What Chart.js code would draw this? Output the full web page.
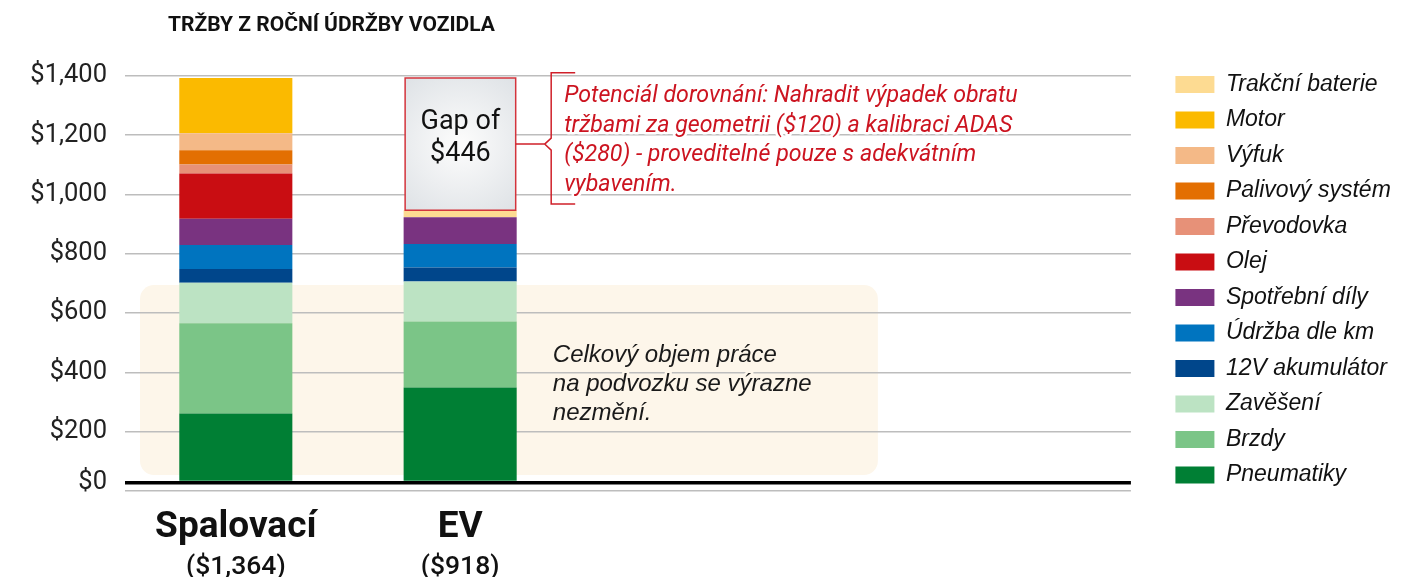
<!DOCTYPE html>
<html><head><meta charset="utf-8">
<script src="https://cdn.jsdelivr.net/npm/chart.js@4/dist/chart.umd.min.js"></script>
<style>html,body{margin:0;padding:0;background:#fff;}#wrap{width:1418px;height:577px;position:relative;}</style>
</head><body><div id="wrap"><canvas id="c" width="1418" height="577"></canvas></div>
<script>
// ---------- DATA ----------
const categories = ['Spalovací', 'EV'];
const seriesNames = ['Pneumatiky', 'Brzdy', 'Zavěšení', '12V akumulátor', 'Údržba dle km', 'Spotřební díly', 'Olej', 'Převodovka', 'Palivový systém', 'Výfuk', 'Motor', 'Trakční baterie'];
const pneumatiky     = [232, 320];
const brzdy          = [305, 223];
const zaveseni       = [136, 135];
const akumulator12V  = [47, 47];
const udrzbaKm       = [81, 79];
const spotrebniDily  = [88, 90];
const olej           = [153, 0];
const prevodovka     = [30, 0];
const palivovySystem = [48, 0];
const vyfuk          = [58, 0];
const motor          = [186, 0];
const trakcniBaterie = [0, 24];
const yTickValues = [0, 200, 400, 600, 800, 1000, 1200, 1400];
const yTickLabels = ['$0', '$200', '$400', '$600', '$800', '$1,000', '$1,200', '$1,400'];
const seriesColors = ['#007f34', '#7bc587', '#bce3c3', '#00468b', '#0074bf', '#793380', '#c90d12', '#e79178', '#e36f02', '#f4b987', '#fbba00', '#fddb92'];
const titleText = 'TRŽBY Z ROČNÍ ÚDRŽBY VOZIDLA';
const noteRed = ['Potenciál dorovnání: Nahradit výpadek obratu', 'tržbami za geometrii ($120) a kalibraci ADAS', '($280) - proveditelné pouze s adekvátním', 'vybavením.'];
const noteDark = ['Celkový objem práce', 'na podvozku se výrazne', 'nezmění.'];

const seriesData = [pneumatiky, brzdy, zaveseni, akumulator12V, udrzbaKm, spotrebniDily, olej, prevodovka, palivovySystem, vyfuk, motor, trakcniBaterie];
const totals = categories.map((_, i) => seriesData.reduce((s, arr) => s + arr[i], 0));

// ---------- LAYOUT CONSTANTS ----------
const GRID_SHIFT = 29;
const yTicksSpec = [{value: -GRID_SHIFT, label: ''}, {value: 0, label: yTickLabels[0]}]
  .concat(yTickValues.slice(1).map((v, i) => ({value: v - GRID_SHIFT, label: yTickLabels[i + 1]})));
const creamBox = {x0: -0.427, x1: 2.862, yTop: 666, yBottom: 25};

Chart.defaults.font.family = 'Roboto';

const fmt = n => '$' + n.toLocaleString('en-US');

const annot = {
  id: 'annot',
  beforeDraw(chart) {
    const {ctx, scales: {x, y}} = chart;
    const x0 = x.getPixelForValue(creamBox.x0), x1 = x.getPixelForValue(creamBox.x1);
    const y0 = y.getPixelForValue(creamBox.yTop), y1 = y.getPixelForValue(creamBox.yBottom);
    ctx.save();
    ctx.fillStyle = '#fdf6ea';
    ctx.beginPath();
    ctx.roundRect(x0, y0, x1 - x0, y1 - y0, 14);
    ctx.fill();
    ctx.restore();
  },
  afterDatasetsDraw(chart) {
    const {ctx, scales: {x, y}} = chart;
    const bar = chart.getDatasetMeta(0).data[1];
    const bl = bar.x - bar.width / 2 + 1.5, br = bar.x + bar.width / 2 - 1;
    const yTop = y.getPixelForValue(totals[0]), yBot = y.getPixelForValue(totals[1]);
    ctx.save();
    // gap box
    const cx = (bl + br) / 2, cy = (yTop + yBot) / 2;
    const g = ctx.createRadialGradient(cx, cy, 5, cx, cy, (br - bl) * 0.8);
    g.addColorStop(0, '#fbfbfb');
    g.addColorStop(1, '#dde1e5');
    ctx.fillStyle = g;
    ctx.fillRect(bl, yTop, br - bl, yBot - yTop);
    ctx.strokeStyle = '#d3343c';
    ctx.lineWidth = 1.5;
    ctx.strokeRect(bl, yTop, br - bl, yBot - yTop);
    ctx.fillStyle = '#111';
    ctx.font = '27px Roboto';
    ctx.textAlign = 'center';
    ctx.textBaseline = 'middle';
    ctx.fillText('Gap of', cx, yTop + 44);
    ctx.fillText(fmt(totals[0] - totals[1]), cx, yTop + 76);
    // connector + bracket
    const bx = br + 35.5;
    const bTop = y.getPixelForValue(1382), bBot = y.getPixelForValue(939);
    ctx.strokeStyle = '#d0202a';
    ctx.lineWidth = 1.5;
    ctx.beginPath();
    ctx.moveTo(br, cy); ctx.lineTo(bx - 6.5, cy);
    ctx.moveTo(bx + 24, bTop); ctx.lineTo(bx, bTop); ctx.lineTo(bx, cy - 6); ctx.lineTo(bx - 6.5, cy);
    ctx.lineTo(bx, cy + 6); ctx.lineTo(bx, bBot); ctx.lineTo(bx + 24, bBot);
    ctx.stroke();
    // red note
    ctx.font = 'italic 23.2px Roboto';
    ctx.textAlign = 'left';
    ctx.lineJoin = 'round';
    const ry0 = y.getPixelForValue(1301);
    noteRed.forEach((t, i) => {
      ctx.strokeStyle = '#fff'; ctx.lineWidth = 5;
      ctx.strokeText(t, bx + 13, ry0 + i * 29.5);
    });
    ctx.fillStyle = '#cc1420';
    noteRed.forEach((t, i) => ctx.fillText(t, bx + 13, ry0 + i * 29.5));
    // dark note
    ctx.font = 'italic 24px "Liberation Sans"';
    const dy0 = y.getPixelForValue(430);
    const dx = x.getPixelForValue(1.413);
    noteDark.forEach((t, i) => {
      ctx.strokeStyle = '#fdf6ea'; ctx.lineWidth = 5;
      ctx.strokeText(t, dx, dy0 + i * 29);
    });
    ctx.fillStyle = '#1a1a1a';
    noteDark.forEach((t, i) => ctx.fillText(t, dx, dy0 + i * 29));
    ctx.restore();
  },
  afterDraw(chart) {
    const {ctx, scales: {x}} = chart;
    ctx.save();
    ctx.fillStyle = '#111';
    ctx.font = 'bold 21px Roboto';
    ctx.textBaseline = 'middle';
    ctx.textAlign = 'left';
    ctx.fillText(titleText, 168, 26);
    ctx.font = '500 26.5px Roboto';
    ctx.textAlign = 'center';
    categories.forEach((c, i) => ctx.fillText('(' + fmt(totals[i]) + ')', x.getPixelForValue(i), 567));
    ctx.restore();
  }
};

new Chart(document.getElementById('c'), {
  type: 'bar',
  data: {
    labels: categories.map((_, i) => i),
    datasets: seriesData.map((d, i) => ({
      label: seriesNames[i], data: d, backgroundColor: seriesColors[i], borderWidth: 0,
      categoryPercentage: 1, barPercentage: 0.504
    }))
  },
  options: {
    responsive: false,
    animation: false,
    devicePixelRatio: 1,
    layout: {padding: {top: 60.5, right: 22.5, bottom: 0, left: 0}},
    plugins: {
      legend: {
        position: 'right', align: 'start', reverse: true,
        labels: {boxWidth: 39, boxHeight: 17, padding: 12.5, color: '#111',
          font: {family: '"Liberation Sans"', size: 23, style: 'italic'}}
      },
      tooltip: {enabled: false},
      title: {display: false}
    },
    scales: {
      x: {
        type: 'linear', stacked: true, min: -0.494, max: 3.99, offset: false,
        grid: {display: false, drawTicks: false}, border: {display: false},
        afterBuildTicks: s => { s.ticks = categories.map((_, i) => ({value: i})); },
        afterFit: s => { s.height = 86; },
        ticks: {autoSkip: false, maxRotation: 0, padding: 15, color: '#111',
          font: {family: 'Roboto', size: 37, weight: 'bold'},
          callback: v => categories[v] ?? ''}
      },
      y: {
        stacked: true, min: -GRID_SHIFT, max: 1423,
        border: {display: false},
        afterBuildTicks: s => { s.ticks = yTicksSpec.map(t => ({value: t.value})); },
        afterFit: s => { s.width = 125; },
        grid: {drawTicks: false,
          color: c => c.tick && c.tick.value === 0 ? '#000' : '#bdbdbd',
          lineWidth: c => c.tick && c.tick.value === 0 ? 3.5 : 1.5},
        ticks: {padding: 18, color: '#222', font: {family: 'Roboto', size: 25.5},
          callback: (v, i) => yTicksSpec[i] ? yTicksSpec[i].label : ''}
      },
      gap: {
        type: 'linear', position: 'right', display: true,
        grid: {display: false}, border: {display: false}, ticks: {display: false},
        afterFit: s => { s.width = 32; }
      }
    }
  },
  plugins: [annot]
});
</script></body></html>
